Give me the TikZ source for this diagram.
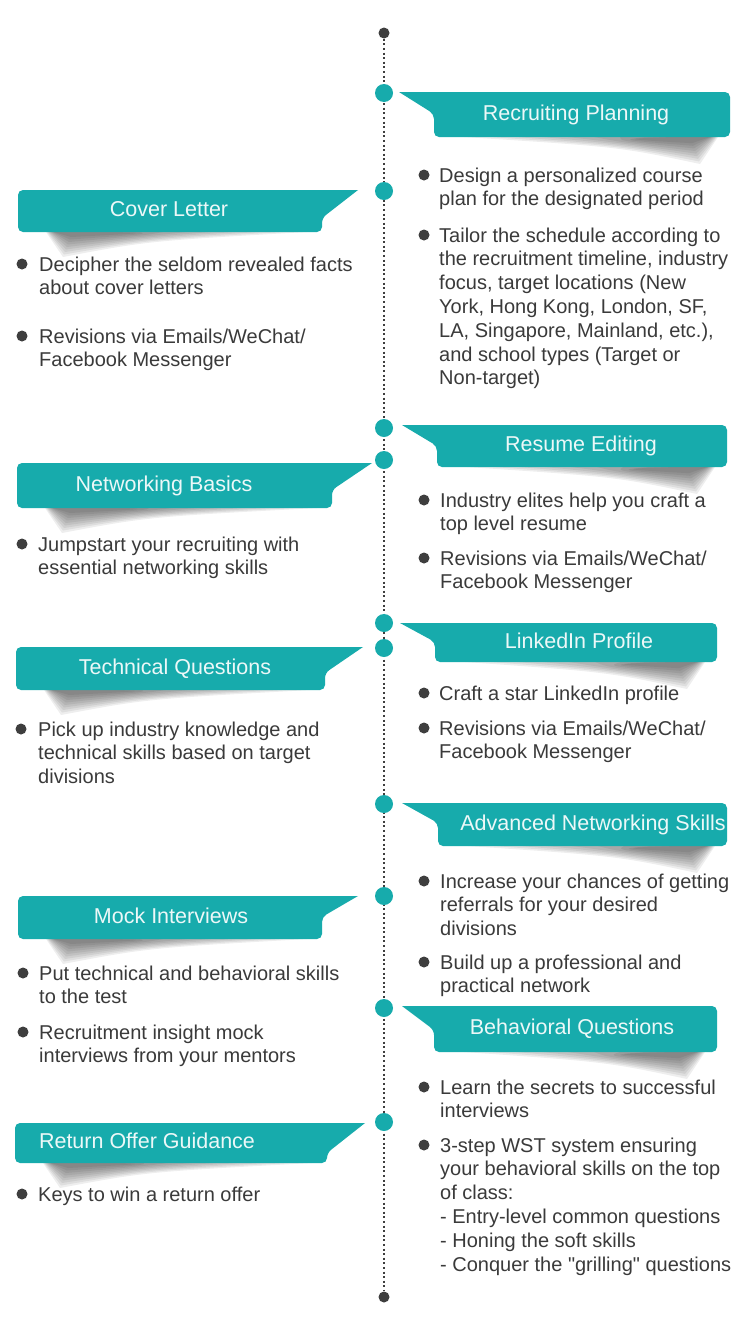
\documentclass[tikz,border=0pt]{standalone}
\usepackage{fontspec}
\setmainfont{Liberation Sans}[Ligatures=TeXOff]
\definecolor{tealc}{RGB}{23,171,172}
\definecolor{txtc}{RGB}{58,58,58}
\definecolor{dotc}{RGB}{62,62,62}
\newcommand\mylines[1]{\vtop{\halign{##\hfil\cr#1\crcr}}}
\newcommand\RBan[9]{%
  \foreach \k in {0,...,8}
    \fill[shadowlayer] ({#4+30+26*\k},#6) -- ({#5-12-\k},#6) -- ({#5-30-\k},{#6+27-2.6*\k}) .. controls ({#5-110},{#6+10-\k}) .. ({#4+30+26*\k},#6) -- cycle;
  \fill[banner] (#2,#3) [rounded corners=5pt] -- (#5,#3) -- (#5,#6) -- (#4,#6) -- (#4,#7) [sharp corners] -- cycle;
  \node[title] (#1) at (#8,{(#3+#6)/2}) {#9};
}
\newcommand\LBan[9]{%
  \foreach \k in {0,...,8}
    \fill[shadowlayer] ({#5-15-24*\k},#6) -- ({#4+28+\k},#6) -- ({#4+45+\k},{#6+25-2.5*\k}) .. controls ({#4+130},{#6+9-\k}) .. ({#5-15-24*\k},#6) -- cycle;
  \fill[banner] (#2,#3) [rounded corners=5pt] -- (#4,#3) -- (#4,#6) -- (#5,#6) -- (#5,#7) [sharp corners] -- cycle;
  \node[title] (#1) at (#8,{(#3+#6)/2}) {#9};
}
\tikzset{
  body/.style={anchor=base west, text=txtc, font=\fontsize{20}{23.8}\selectfont, inner sep=0pt},
  bul/.style={circle, fill=dotc, inner sep=0pt, minimum size=11pt},
  title/.style={text=white!92!tealc, font=\fontsize{21.5}{24}\selectfont, inner sep=0pt, text height=15.5pt, text depth=4.5pt},
  hub/.style={circle, fill=tealc, inner sep=0pt, minimum size=18pt},
  endpt/.style={circle, fill=dotc, inner sep=0pt, minimum size=11pt},
  banner/.style={fill=tealc},
  shadowlayer/.style={fill=black, fill opacity=0.065}
}
\begin{document}
\begin{tikzpicture}[x=1pt,y=-1pt]
\fill[white] (0,0) rectangle (749,1336);
\useasboundingbox (0,0) rectangle (749,1336);

% banners
\RBan{rp}{399}{92}{434}{730}{137}{114}{576}{Recruiting Planning}
\LBan{cl}{358}{190}{18}{322}{232}{218}{169}{Cover Letter}
\RBan{re}{402}{425}{437}{727}{467}{446}{581}{Resume Editing}
\LBan{nb}{372}{463}{17}{332}{508}{490}{164}{Networking Basics}
\RBan{li}{400}{623}{435}{717}{662}{642}{579}{LinkedIn Profile}
\LBan{tq}{363}{647}{16}{325}{690}{673}{175}{Technical Questions}
\RBan{an}{402}{803}{438}{727}{846}{823}{593}{Advanced Networking Skills}
\LBan{mi}{358}{896}{18}{322}{939}{917}{171}{Mock Interviews}
\RBan{bq}{402}{1006}{434}{717}{1052}{1030}{572}{Behavioral Questions}
\LBan{ro}{365}{1123}{15}{327}{1163}{1153}{147}{Return Offer Guidance}

% timeline
\node[endpt] (top) at (384,33) {};
\node[endpt] (bottom) at (384,1297) {};
\draw[dotc, line width=2pt, dash pattern=on 2pt off 2.6pt] (top) -- (bottom);
\foreach \y [count=\i] in {93,191,428,460,623,648,804,896,1008,1122}
  \node[hub] (h\i) at (384,\y) {};

% right column texts
\node[bul] (b1) at (424,175) {};
\node[body] (t1) at (439,182) {\mylines{Design a personalized course\cr plan for the designated period}};
\node[bul] (b2) at (424,235) {};
\node[body] (t2) at (439,242) {\mylines{Tailor the schedule according to\cr the recruitment timeline, industry\cr focus, target locations (New\cr York, Hong Kong, London, SF,\cr LA, Singapore, Mainland, etc.),\cr and school types (Target or\cr Non-target)}};
\node[bul] (b5) at (424,500) {};
\node[body] (t5) at (440,507) {\mylines{Industry elites help you craft a\cr top level resume}};
\node[bul] (b6) at (424,558) {};
\node[body] (t6) at (440,565) {\mylines{Revisions via Emails/WeChat/\cr Facebook Messenger}};
\node[bul] (b8) at (424,693) {};
\node[body] (t8) at (439,700) {\mylines{Craft a star LinkedIn profile}};
\node[bul] (b9) at (424,728) {};
\node[body] (t9) at (439,735) {\mylines{Revisions via Emails/WeChat/\cr Facebook Messenger}};
\node[bul] (b11) at (424,881) {};
\node[body] (t11) at (440,888) {\mylines{Increase your chances of getting\cr referrals for your desired\cr divisions}};
\node[bul] (b12) at (424,962) {};
\node[body] (t12) at (440,969) {\mylines{Build up a professional and\cr practical network}};
\node[bul] (b15) at (424,1087) {};
\node[body] (t15) at (440,1094) {\mylines{Learn the secrets to successful\cr interviews}};
\node[bul] (b16) at (424,1145) {};
\node[body] (t16) at (440,1152) {\mylines{3-step WST system ensuring\cr your behavioral skills on the top\cr of class:\cr - Entry-level common questions\cr - Honing the soft skills\cr - Conquer the "grilling" questions}};

% left column texts
\node[bul] (b3) at (22,264) {};
\node[body] (t3) at (39,271) {\mylines{Decipher the seldom revealed facts\cr about cover letters}};
\node[bul] (b4) at (22,336) {};
\node[body] (t4) at (39,343) {\mylines{Revisions via Emails/WeChat/\cr Facebook Messenger}};
\node[bul] (b7) at (22,544) {};
\node[body] (t7) at (38,551) {\mylines{Jumpstart your recruiting with\cr essential networking skills}};
\node[bul] (b10) at (21,729) {};
\node[body] (t10) at (38,736) {\mylines{Pick up industry knowledge and\cr technical skills based on target\cr divisions}};
\node[bul] (b13) at (23,973) {};
\node[body] (t13) at (39,980) {\mylines{Put technical and behavioral skills\cr to the test}};
\node[bul] (b14) at (23,1032) {};
\node[body] (t14) at (39,1039) {\mylines{Recruitment insight mock\cr interviews from your mentors}};
\node[bul] (b17) at (22,1194) {};
\node[body] (t17) at (38,1201) {\mylines{Keys to win a return offer}};
\end{tikzpicture}
\end{document}
